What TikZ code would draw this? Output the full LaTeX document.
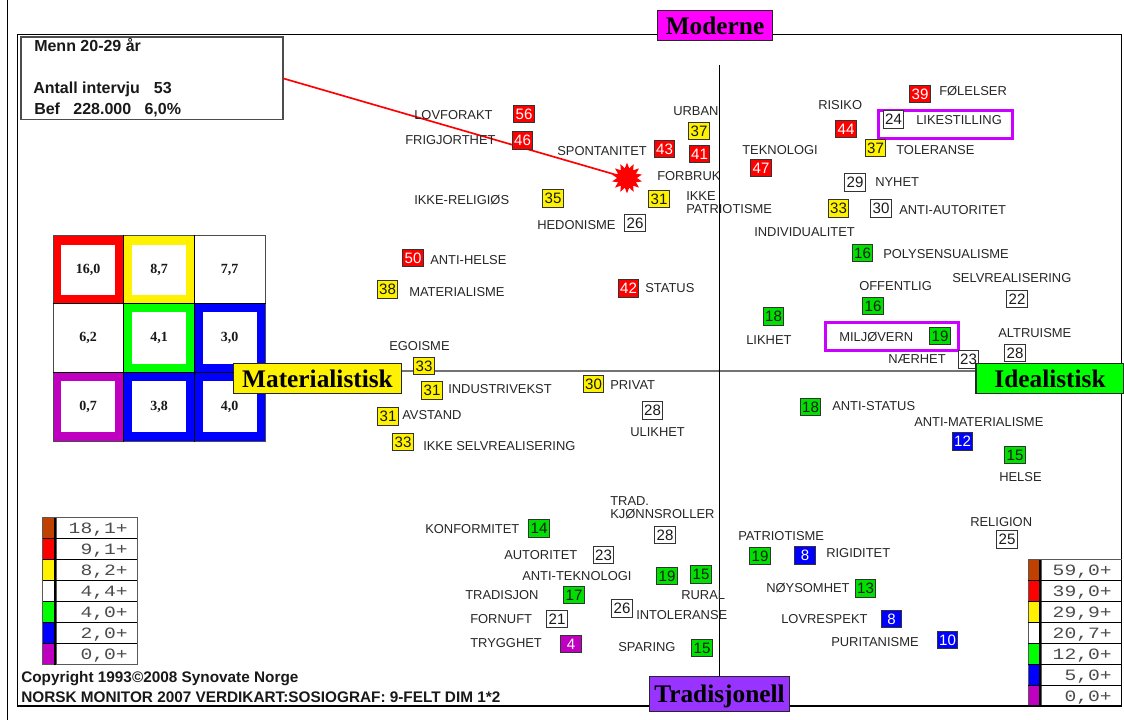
\documentclass[tikz,border=0pt]{standalone}
\usepackage{fontspec}
\setmainfont{Liberation Sans}
\newfontfamily\tms{Liberation Serif}
\newfontfamily\mno[FakeStretch=1.25]{Liberation Mono}
\usetikzlibrary{shapes.geometric}
\definecolor{cbrown}{HTML}{C04000}
\definecolor{cgreen}{HTML}{00E000}
\definecolor{cmgreen}{HTML}{00FF00}
\definecolor{cpurple}{HTML}{C000C0}
\definecolor{cviolet}{HTML}{CC00FF}
\definecolor{cmag}{HTML}{FF00FF}
\definecolor{ctrad}{HTML}{9933FF}
\tikzset{
 x=0.75pt,y=-0.75pt,
 lab/.style={anchor=west,inner sep=0pt,text height=6.8pt,text depth=0pt,font=\fontsize{9.7}{10}\selectfont,text=black!85},
 nbx/.style={draw=black!80,line width=0.7pt,inner sep=0pt,minimum width=15.3pt,minimum height=13.2pt,text height=8pt,text depth=0pt,font=\fontsize{11.3}{12}\selectfont},
 nr/.style={nbx,fill=red,text=white},
 ny/.style={nbx,fill=yellow,text=black!90},
 nw/.style={nbx,fill=white,text=black!90},
 ng/.style={nbx,fill=cgreen,text=black!90},
 nl/.style={nbx,fill=blue,text=white},
 np/.style={nbx,fill=cpurple,text=white},
 axis/.style={draw=black!85,line width=0.8pt,inner sep=0pt,font=\tms\bfseries\fontsize{19}{20}\selectfont,text height=13pt,text depth=0pt},
 vio/.style={draw=cviolet,line width=1.6pt},
 info/.style={anchor=west,inner sep=0pt,font=\bfseries\fontsize{12}{13}\selectfont,text height=8.6pt,text depth=0pt,text=black!90},
 cpy/.style={anchor=west,inner sep=0pt,font=\bfseries\fontsize{11.5}{13}\selectfont,text height=8.2pt,text depth=0pt,text=black!90},
 mtx/.style={inner sep=0pt,font=\tms\bfseries\fontsize{10.5}{11}\selectfont,text=black!90},
 legv/.style={anchor=east,inner sep=0pt,font=\mno\fontsize{11.8}{14}\selectfont,text=black!70,text height=8pt,text depth=1pt},
}
\newcommand{\lblx}[4]{\node[lab] (#1) at (#2,#3) {#4};}
\newcommand{\nbox}[5]{\node[#4] (#1) at (#2,#3) {#5};}
\newcommand{\mcell}[8]{%
 \fill[#7] (#2,#3) rectangle ++(71,69);
 \fill[white] (#2+#4,#3+#5) rectangle (#2+#4+54,#3+#6);
 \node[mtx] (#1) at (#2+35,#3+34.5) {#8};}
\newcommand{\lgrow}[9]{%
 \draw[black!65,line width=0.7pt,fill=#7] (#2,#6) rectangle (#3,#6+21);
 \draw[black!65,line width=0.7pt,fill=white] (#4,#6) rectangle (#5,#6+21);
 \draw[black,line width=1pt] (#3,#6) -- (#3,#6+21);
 \node[legv] (#1) at (#9,#6+11) {#8};}
\begin{document}
\begin{tikzpicture}
\useasboundingbox[fill=white] (0,0) rectangle (1124,720);
\draw[black,line width=0.9pt] (7.5,0) -- (7.5,720);
\draw[black,line width=0.9pt] (17.5,34.5) rectangle (1121.5,706);

% info box
\node[draw=black!70,line width=0.8pt,fill=white,minimum width=196.5pt,minimum height=62.2pt,inner sep=0pt] (infobox) at (152,78.5) {};
\node[info] (i1) at (34,45.5) {Menn 20-29 år};
\node[info] (i2) at (33,88) {Antall intervju\hspace{10.5pt}53};
\node[info] (i3) at (34,109) {Bef\hspace{10pt}228.000\hspace{10pt}6,0\%};

\coordinate (vtop) at (719.7,65);
\coordinate (vbot) at (719.7,677);
\coordinate (hleft) at (402,371);
\coordinate (hright) at (976,371);
\draw[black!55,line width=1.2pt] (hleft) -- (hright);
\draw[black,line width=0.9pt] (vtop) -- (vbot);

% burst and connector
\node[star,star points=14,star point ratio=1.55,fill=red,draw=none,minimum size=23pt,inner sep=0pt] (burst) at (627,178) {};
\draw[red,line width=1.25pt] (infobox.east) -- (burst.center);

% matrix
\mcell{m1}{53}{235}{8}{10}{60}{red}{16,0}
\mcell{m2}{124}{235}{8}{10}{60}{yellow}{8,7}
\mcell{m3}{194.5}{235}{8}{10}{60}{white}{7,7}
\mcell{m4}{53}{303.5}{8}{8.5}{60.5}{white}{6,2}
\mcell{m5}{124}{303.5}{8}{8.5}{60.5}{cmgreen}{4,1}
\mcell{m6}{194.5}{303.5}{8.5}{8.5}{60.5}{blue}{3,0}
\mcell{m7}{53}{372.5}{8}{8.5}{59.5}{cpurple}{0,7}
\mcell{m8}{124}{372.5}{8}{8.5}{59.5}{blue}{3,8}
\mcell{m9}{194.5}{372.5}{8.5}{8.5}{59.5}{blue}{4,0}
\draw[black!70,line width=0.7pt] (53,235) rectangle (265.5,441.5);
\draw[black,line width=1pt] (123.5,235) -- (123.5,441.5) (194.5,235) -- (194.5,441.5)
  (53,303.5) -- (265.5,303.5) (53,372.5) -- (265.5,372.5);

% violet frames
\draw[vio] (878.5,110.5) rectangle (1012.5,138.5);
\draw[vio] (825.5,322.5) rectangle (958.5,350.5);

% numbered boxes
\nbox{a56}{524}{114}{nr}{56}
\nbox{a46}{522.5}{140.5}{nr}{46}
\nbox{a43}{664.5}{149}{nr}{43}
\nbox{a37u}{699}{131}{ny}{37}
\nbox{a41}{699.5}{154}{nr}{41}
\nbox{a47}{761}{168}{nr}{47}
\nbox{a35}{553}{198.5}{ny}{35}
\nbox{a31i}{659}{199}{ny}{31}
\nbox{a26h}{635}{223}{nw}{26}
\nbox{a39}{920}{94}{nr}{39}
\nbox{a44}{846}{129}{nr}{44}
\nbox{a24}{893.5}{119.5}{nw}{24}
\nbox{a37t}{875.5}{148}{ny}{37}
\nbox{a29}{855}{182.5}{nw}{29}
\nbox{a33i}{838.5}{208.5}{ny}{33}
\nbox{a30a}{881}{208.5}{nw}{30}
\nbox{a16p}{862.5}{253}{ng}{16}
\nbox{a16o}{873}{306}{ng}{16}
\nbox{a22}{1017}{299}{nw}{22}
\nbox{a18l}{773.5}{316.5}{ng}{18}
\nbox{a19m}{940}{336}{ng}{19}
\nbox{a23n}{968.5}{359.5}{nw}{23}
\nbox{a28a}{1015}{353}{nw}{28}
\nbox{a50}{413}{258}{nr}{50}
\nbox{a38}{387.5}{289.5}{ny}{38}
\nbox{a42}{628.5}{288.5}{nr}{42}
\nbox{a33e}{424}{366}{ny}{33}
\nbox{a31b}{432}{390.5}{ny}{31}
\nbox{a30p}{593.5}{384}{ny}{30}
\nbox{a28u}{652.5}{410.5}{nw}{28}
\nbox{a31a}{388}{416.5}{ny}{31}
\nbox{a33s}{403}{442}{ny}{33}
\nbox{a18s}{810.5}{407}{ng}{18}
\nbox{a12}{962.5}{441.5}{nl}{12}
\nbox{a15h}{1015}{455}{ng}{15}
\nbox{a25}{1007}{539.5}{nw}{25}
\nbox{a19p}{760}{556}{ng}{19}
\nbox{a8r}{805}{555.5}{nl}{8}
\nbox{a13}{865.5}{588.5}{ng}{13}
\nbox{a8l}{891.5}{619}{nl}{8}
\nbox{a10}{947.5}{640}{nl}{10}
\nbox{a28t}{665}{535}{nw}{28}
\nbox{a14}{539}{528.5}{ng}{14}
\nbox{a23a}{603.5}{555}{nw}{23}
\nbox{a19t}{667}{576}{ng}{19}
\nbox{a15r}{701}{574.5}{ng}{15}
\nbox{a17}{574}{595}{ng}{17}
\nbox{a26i}{622}{608.5}{nw}{26}
\nbox{a21}{557}{619}{nw}{21}
\nbox{a4}{571}{644}{np}{4}
\nbox{a15s}{702}{648}{ng}{15}

% labels
\lblx{l01}{414}{115}{LOVFORAKT}
\lblx{l02}{405}{140}{FRIGJORTHET}
\lblx{l03}{557}{151}{SPONTANITET}
\lblx{l04}{673}{111}{URBAN}
\lblx{l05}{657}{176}{FORBRUK}
\lblx{l06}{414}{200}{IKKE-RELIGIØS}
\lblx{l07}{686}{196}{IKKE}
\lblx{l08}{686}{209}{PATRIOTISME}
\lblx{l09}{537}{225}{HEDONISME}
\lblx{l10}{939}{91}{FØLELSER}
\lblx{l11}{818}{105}{RISIKO}
\lblx{l12}{916}{120}{LIKESTILLING}
\lblx{l13}{742}{150}{TEKNOLOGI}
\lblx{l14}{896}{150}{TOLERANSE}
\lblx{l15}{875}{182}{NYHET}
\lblx{l16}{899}{210}{ANTI-AUTORITET}
\lblx{l17}{754}{232}{INDIVIDUALITET}
\lblx{l18}{883}{254}{POLYSENSUALISME}
\lblx{l19}{952}{278}{SELVREALISERING}
\lblx{l20}{859}{286}{OFFENTLIG}
\lblx{l21}{998}{333}{ALTRUISME}
\lblx{l22}{746}{340}{LIKHET}
\lblx{l23}{839}{337}{MILJØVERN}
\lblx{l24}{888}{359}{NÆRHET}
\lblx{l25}{430}{260}{ANTI-HELSE}
\lblx{l26}{409}{292}{MATERIALISME}
\lblx{l27}{645}{288}{STATUS}
\lblx{l28}{389}{346}{EGOISME}
\lblx{l29}{448}{389}{INDUSTRIVEKST}
\lblx{l30}{610}{385}{PRIVAT}
\lblx{l31}{630}{432}{ULIKHET}
\lblx{l32}{402}{415}{AVSTAND}
\lblx{l33}{423}{446}{IKKE SELVREALISERING}
\lblx{l34}{832}{406}{ANTI-STATUS}
\lblx{l35}{914}{422}{ANTI-MATERIALISME}
\lblx{l36}{999}{477}{HELSE}
\lblx{l37}{970}{522}{RELIGION}
\lblx{l38}{738}{536}{PATRIOTISME}
\lblx{l39}{826}{553}{RIGIDITET}
\lblx{l40}{766}{588}{NØYSOMHET}
\lblx{l41}{781}{619}{LOVRESPEKT}
\lblx{l42}{831}{642}{PURITANISME}
\lblx{l43}{610}{501}{TRAD.}
\lblx{l44}{610}{514}{KJØNNSROLLER}
\lblx{l45}{425}{529}{KONFORMITET}
\lblx{l46}{504}{555}{AUTORITET}
\lblx{l47}{522}{576}{ANTI-TEKNOLOGI}
\lblx{l48}{465}{595}{TRADISJON}
\lblx{l49}{681}{595}{RURAL}
\lblx{l50}{636}{615}{INTOLERANSE}
\lblx{l51}{470}{619}{FORNUFT}
\lblx{l52}{470}{643}{TRYGGHET}
\lblx{l53}{618}{647}{SPARING}

% legends
\lgrow{g1}{42.5}{55}{56}{137}{517.5}{cbrown}{18,1+}{128}
\lgrow{g2}{42.5}{55}{56}{137}{538.5}{red}{9,1+}{128}
\lgrow{g3}{42.5}{55}{56}{137}{559.5}{yellow}{8,2+}{128}
\lgrow{g4}{42.5}{55}{56}{137}{580.5}{white}{4,4+}{128}
\lgrow{g5}{42.5}{55}{56}{137}{601.5}{cmgreen}{4,0+}{128}
\lgrow{g6}{42.5}{55}{56}{137}{622.5}{blue}{2,0+}{128}
\lgrow{g7}{42.5}{55}{56}{137}{643.5}{cpurple}{0,0+}{128}
\draw[black,line width=1pt] (42.5,538.5) -- (137,538.5) (42.5,559.5) -- (137,559.5) (42.5,580.5) -- (137,580.5)
  (42.5,601.5) -- (137,601.5) (42.5,622.5) -- (137,622.5) (42.5,643.5) -- (137,643.5);
\lgrow{h1}{1028}{1040}{1041}{1121.5}{559.5}{cbrown}{59,0+}{1112}
\lgrow{h2}{1028}{1040}{1041}{1121.5}{580.5}{red}{39,0+}{1112}
\lgrow{h3}{1028}{1040}{1041}{1121.5}{601.5}{yellow}{29,9+}{1112}
\lgrow{h4}{1028}{1040}{1041}{1121.5}{622.5}{white}{20,7+}{1112}
\lgrow{h5}{1028}{1040}{1041}{1121.5}{643.5}{cmgreen}{12,0+}{1112}
\lgrow{h6}{1028}{1040}{1041}{1121.5}{664.5}{blue}{5,0+}{1112}
\lgrow{h7}{1028}{1040}{1041}{1121.5}{685.5}{cpurple}{0,0+}{1112}
\draw[black,line width=1pt] (1028,580.5) -- (1121.5,580.5) (1028,601.5) -- (1121.5,601.5) (1028,622.5) -- (1121.5,622.5)
  (1028,643.5) -- (1121.5,643.5) (1028,664.5) -- (1121.5,664.5) (1028,685.5) -- (1121.5,685.5);
\draw[black,line width=0.9pt] (1121.5,559.5) -- (1121.5,706) (1028,706) -- (1121.5,706);

% copyright
\node[cpy] (c1) at (21,677) {Copyright 1993©2008 Synovate Norge};
\node[cpy] (c2) at (21,697) {NORSK MONITOR 2007 VERDIKART:SOSIOGRAF: 9-FELT DIM 1*2};

% axis labels
\node[axis,fill=cmag,minimum width=86.5pt,minimum height=23pt] (mod) at (715,25.5) {Moderne};
\node[axis,fill=yellow,minimum width=126.5pt,minimum height=23pt] (mat) at (317.5,378.5) {Materialistisk};
\node[axis,fill=cmgreen,minimum width=111pt,minimum height=23pt] (ide) at (1050,378.5) {Idealistisk};
\node[axis,fill=ctrad,minimum width=105.5pt,minimum height=26.5pt] (trad) at (719.5,694) {Tradisjonell};
\end{tikzpicture}
\end{document}
